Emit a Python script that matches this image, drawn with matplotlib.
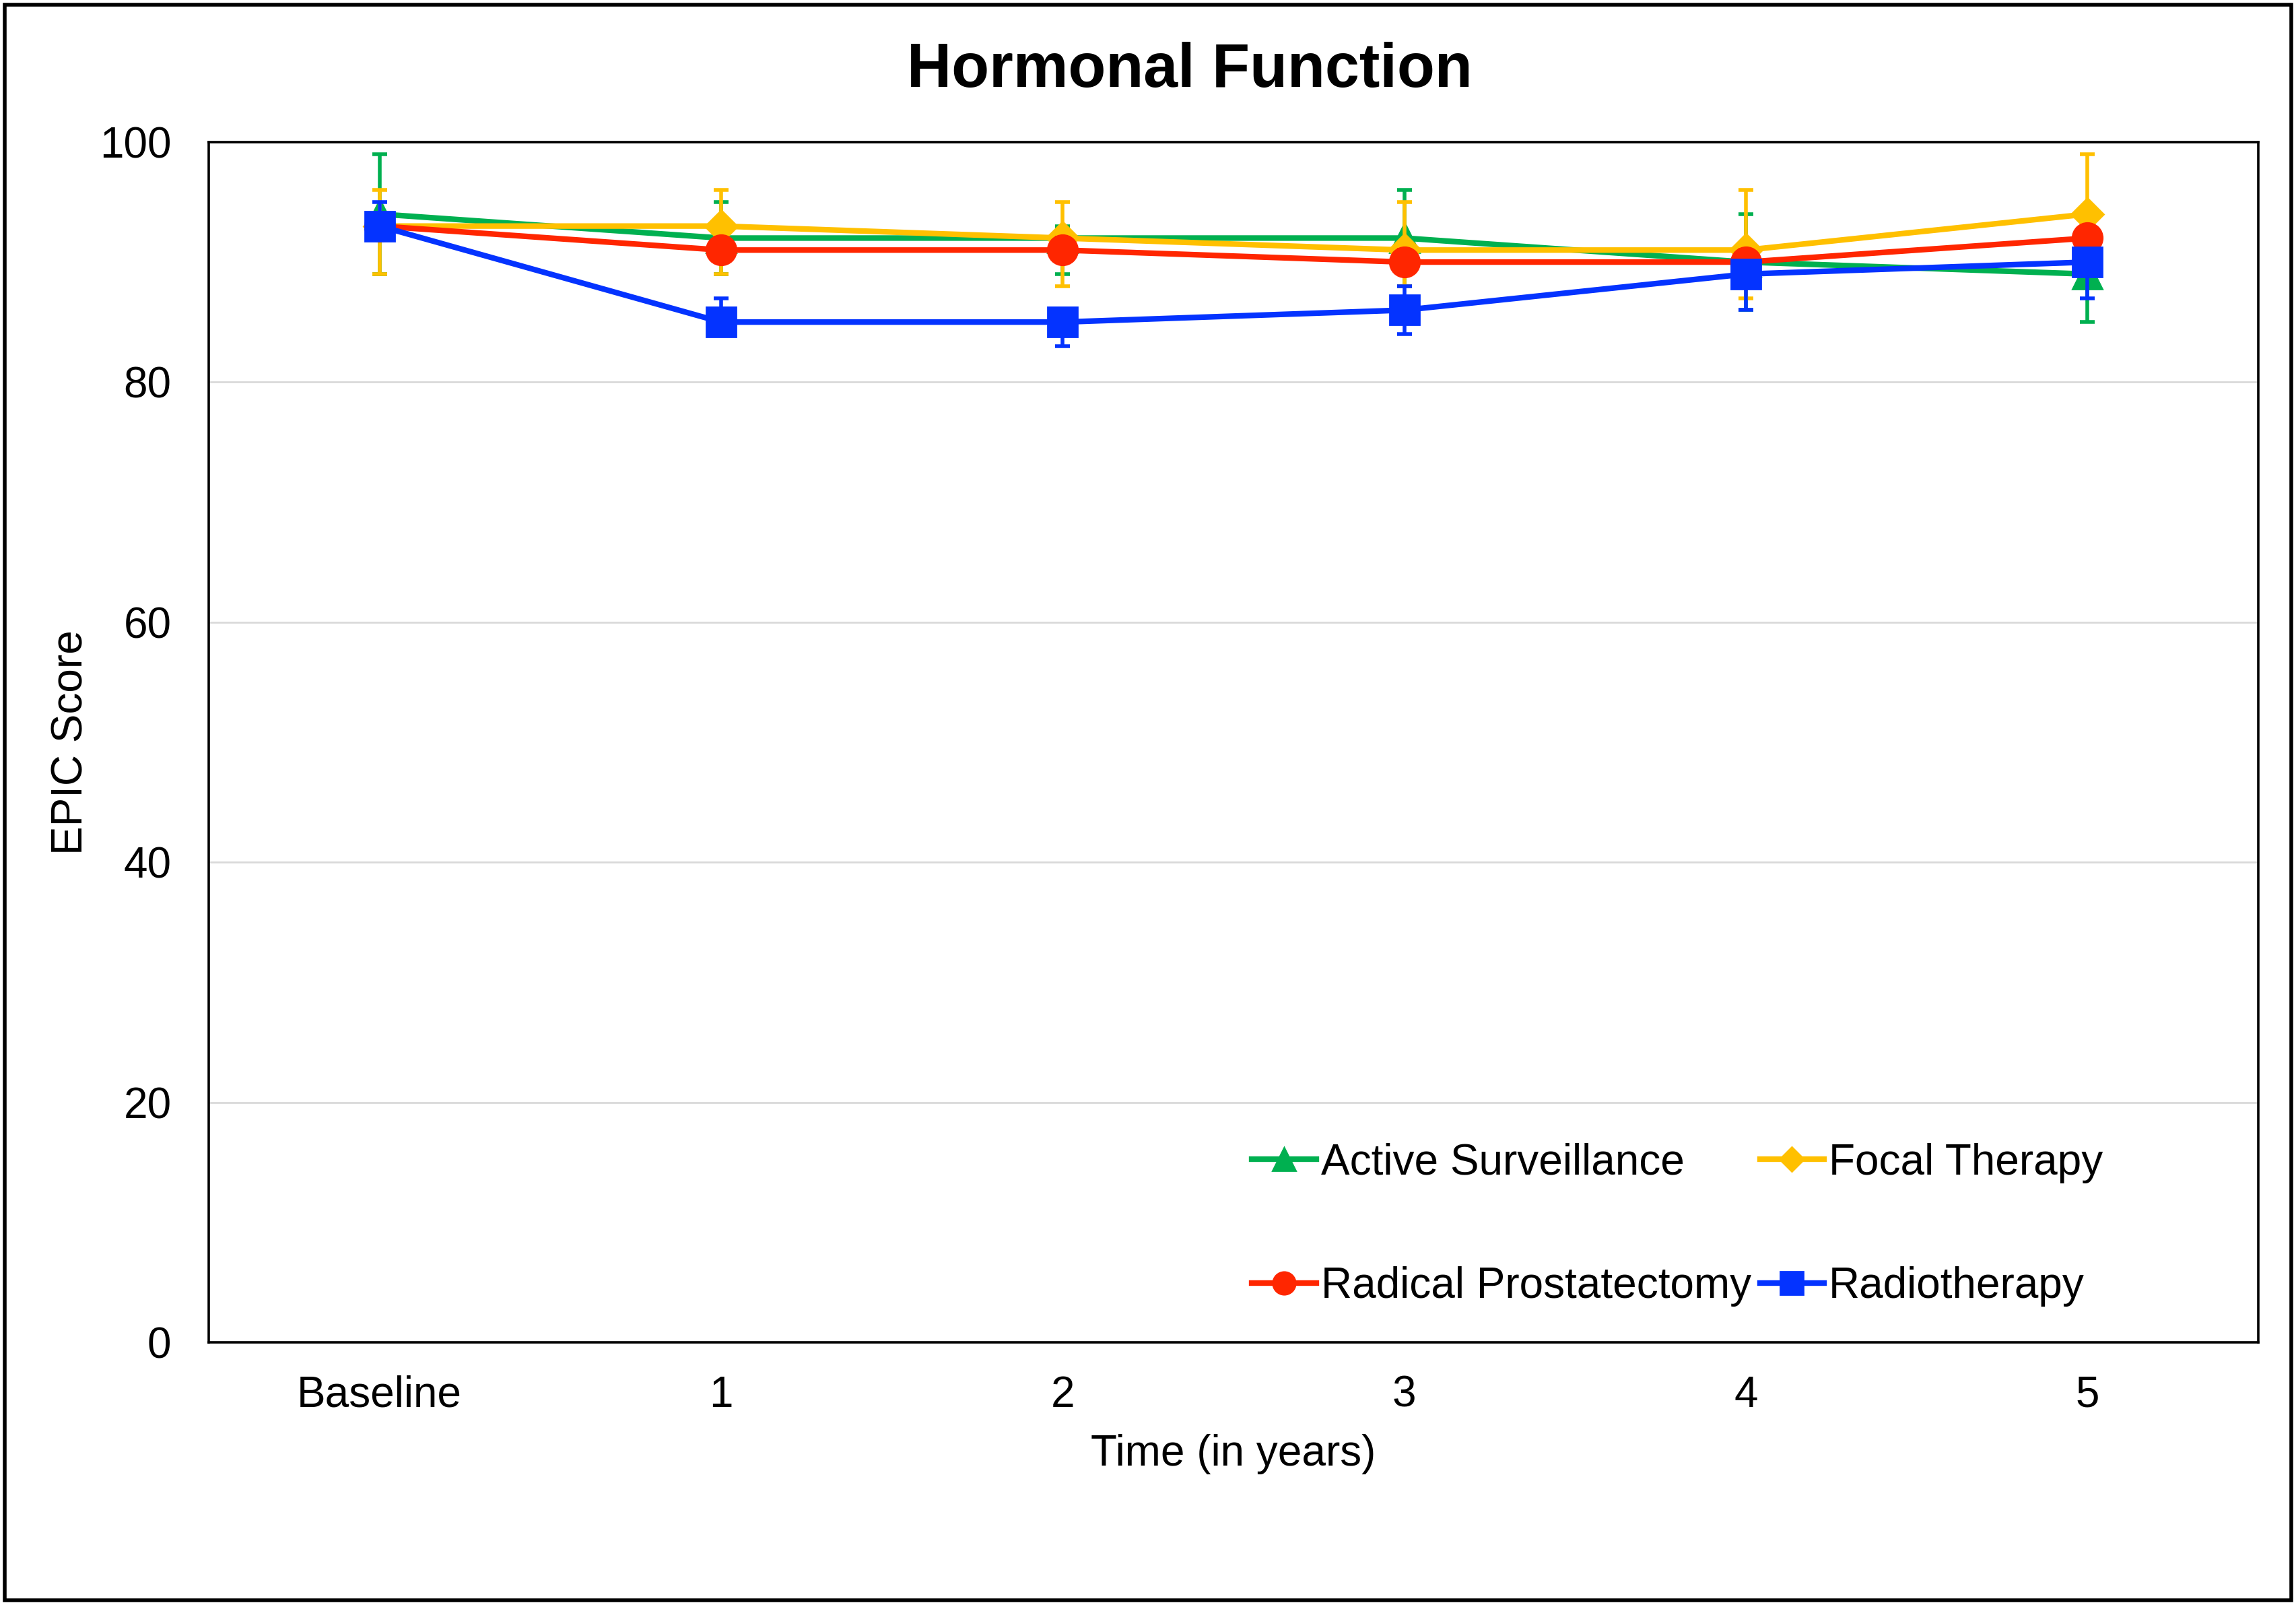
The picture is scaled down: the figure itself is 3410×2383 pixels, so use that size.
import matplotlib.pyplot as plt
from matplotlib.patches import Rectangle

plt.rcParams["font.family"] = ["Liberation Sans", "DejaVu Sans"]

# Daten
times = ["Baseline", "1", "2", "3", "4", "5"]
series = ["Active Surveillance", "Focal Therapy", "Radical Prostatectomy", "Radiotherapy"]

as_mean = [94, 92, 92, 92, 90, 89]
as_lo = [5, 3, 3, 4, 4, 4]
as_hi = [5, 3, 1, 4, 4, 2]

ft_mean = [93, 93, 92, 91, 91, 94]
ft_lo = [4, 4, 4, 3, 4, 5]
ft_hi = [3, 3, 3, 4, 5, 5]

rp_mean = [93, 91, 91, 90, 90, 92]
rp_lo = [1, 1, 1, 1, 1, 1]
rp_hi = [1, 1, 1, 1, 1, 1]

rt_mean = [93, 85, 85, 86, 89, 90]
rt_lo = [0, 0, 2, 2, 3, 3]
rt_hi = [2, 2, 0, 2, 0, 0]

colors = ["#00B050", "#FFC000", "#FF2600", "#0433FF"]
markers = ["^", "D", "o", "s"]
msizes = [16, 12, 16, 16]

fig = plt.figure(figsize=(17.05, 11.915), dpi=200)
ax = fig.add_axes([0.0909, 0.1637, 0.8927, 0.7478])

x = list(range(len(times)))
lines = []
data = [(as_mean, as_lo, as_hi), (ft_mean, ft_lo, ft_hi), (rp_mean, rp_lo, rp_hi), (rt_mean, rt_lo, rt_hi)]
for i, (m, lo, hi) in enumerate(data):
    c = ax.errorbar(x, m, yerr=[lo, hi], color=colors[i], marker=markers[i], markersize=msizes[i],
                    linewidth=3, elinewidth=2, capsize=4, capthick=2, label=series[i], zorder=3 + i)
    lines.append(c[0])

ax.set_xlim(-0.5, 5.5)
ax.set_ylim(0, 100)
ax.set_yticks([0, 20, 40, 60, 80, 100])
ax.set_xticks(x)
ax.set_xticklabels(times)
ax.tick_params(axis="both", length=0, labelsize=23)
ax.tick_params(axis="x", pad=17.5)
ax.tick_params(axis="y", pad=20)
ax.yaxis.grid(True, color="#d9d9d9", linewidth=1)
ax.set_axisbelow(True)
for s in ax.spines.values():
    s.set_linewidth(1.3)
    s.set_color("black")

ax.set_xlabel("Time (in years)", fontsize=23, labelpad=10)
ax.set_ylabel("EPIC Score", fontsize=23, labelpad=4.5)
fig.text(0.518, 0.956, "Hormonal Function", fontsize=33, fontweight="bold", ha="center", va="center")

order = [0, 2, 1, 3]
ax.legend([lines[k] for k in order], [series[k] for k in order], ncol=2, frameon=False,
          loc="lower right", bbox_to_anchor=(0.9346, 0.0115), fontsize=23, borderpad=0,
          handlelength=1.5, handletextpad=0.1, columnspacing=0.2, labelspacing=1.94,
          markerscale=0.75)

fig.patches.append(Rectangle((0.002, 0.003), 0.996, 0.994, transform=fig.transFigure,
                             fill=False, edgecolor="black", linewidth=2))

fig.savefig("out.png", dpi=200)
